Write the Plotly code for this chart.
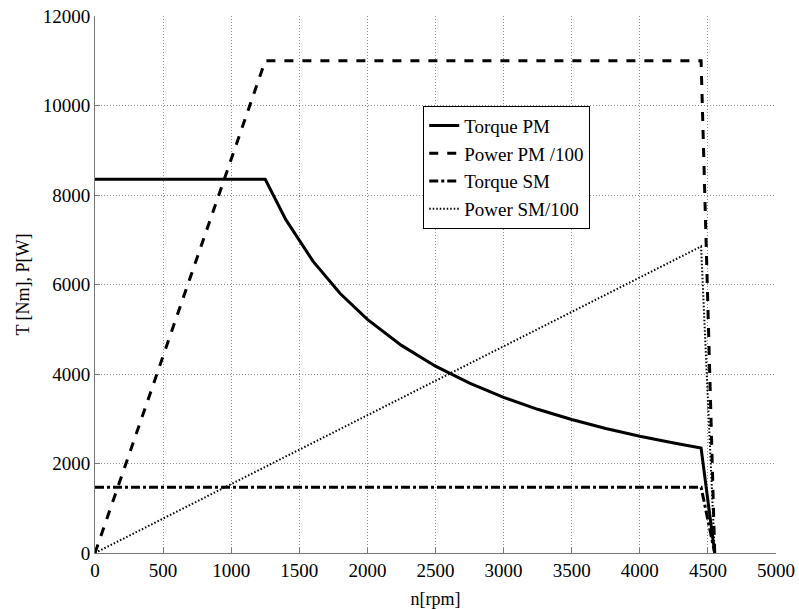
import plotly.graph_objects as go

# Torque PM (Nm)
n_tpm = [0, 1250, 1400, 1600, 1800, 2000, 2250, 2500, 2750, 3000, 3250, 3500, 3750, 4000, 4250, 4450, 4550]
t_pm = [8350, 8350, 7455, 6523, 5799, 5219, 4639, 4175, 3795, 3479, 3211, 2982, 2783, 2609, 2456, 2345, 0]

# Power PM /100
n_ppm = [0, 1250, 4450, 4550]
p_pm = [0, 11000, 11000, 0]

# Torque SM
n_tsm = [0, 4450, 4550]
t_sm = [1470, 1470, 0]

# Power SM /100
n_psm = [0, 4450, 4550]
p_sm = [0, 6850, 0]

x_ticks = [0, 500, 1000, 1500, 2000, 2500, 3000, 3500, 4000, 4500, 5000]
y_ticks = [0, 2000, 4000, 6000, 8000, 10000, 12000]

FONT = "Liberation Serif"

fig = go.Figure()
fig.add_trace(go.Scatter(x=n_tpm, y=t_pm, mode="lines", name="Torque PM",
                         line=dict(color="black", width=3, dash="solid")))
fig.add_trace(go.Scatter(x=n_ppm, y=p_pm, mode="lines", name="Power PM /100",
                         line=dict(color="black", width=3, dash="dash")))
fig.add_trace(go.Scatter(x=n_tsm, y=t_sm, mode="lines", name="Torque SM",
                         line=dict(color="black", width=3, dash="dashdot")))
fig.add_trace(go.Scatter(x=n_psm, y=p_sm, mode="lines", name="Power SM/100",
                         line=dict(color="black", width=2, dash="1.5px,2px")))

fig.update_layout(
    width=799, height=609,
    margin=dict(l=95, r=23, t=16, b=56),
    paper_bgcolor="white", plot_bgcolor="white",
    font=dict(family=FONT, size=18, color="black"),
    legend=dict(x=0.482, y=0.833, xanchor="left", yanchor="top",
                bgcolor="white", bordercolor="black", borderwidth=1,
                font=dict(family=FONT, size=19), tracegroupgap=0),
    showlegend=True,
)
fig.update_xaxes(range=[0, 5000], tickvals=x_ticks, ticktext=[str(v) for v in x_ticks],
                 showgrid=True, gridcolor="#8c8c8c", griddash="1px,2px", gridwidth=1,
                 showline=True, linecolor="#777777", linewidth=1,
                 ticks="inside", ticklen=5, tickcolor="#777777",
                 zeroline=False, automargin=False,
                 title=dict(text="n[rpm]", font=dict(family=FONT, size=18), standoff=12),
                 tickfont=dict(family=FONT, size=19), ticklabelstandoff=0)
fig.update_yaxes(range=[0, 12000], tickvals=y_ticks, ticktext=[str(v) for v in y_ticks],
                 showgrid=True, gridcolor="#8c8c8c", griddash="1px,2px", gridwidth=1,
                 showline=True, linecolor="#777777", linewidth=1,
                 ticks="inside", ticklen=5, tickcolor="#777777",
                 zeroline=False, automargin=False,
                 title=dict(text="T [Nm], P[W]", font=dict(family=FONT, size=18), standoff=8),
                 tickfont=dict(family=FONT, size=19))

fig.write_html("out.html")
